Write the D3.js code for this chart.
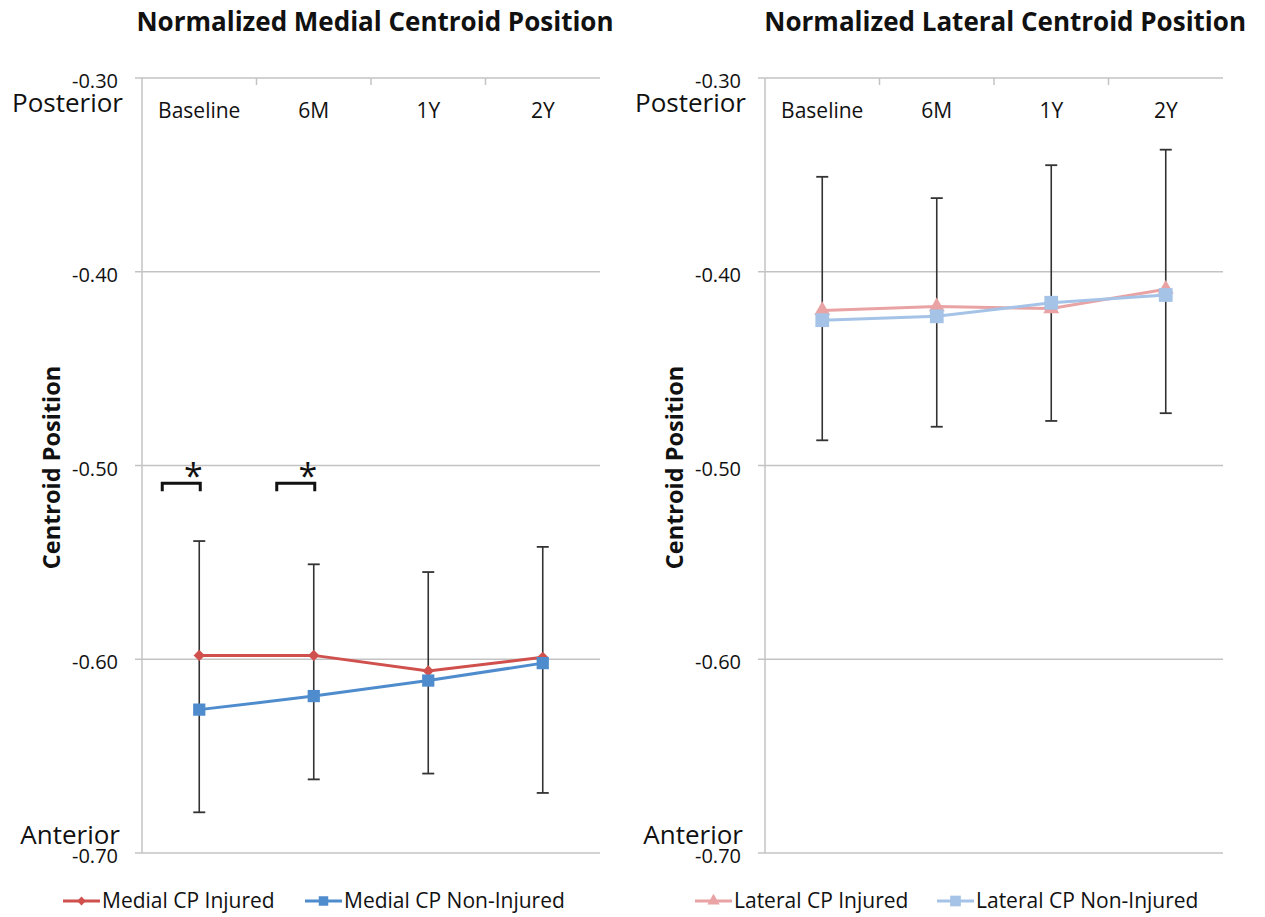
<!DOCTYPE html>
<meta charset="utf-8">
<style>
body { margin: 0; background: #fff; }
text { font-family: "Open Sans", sans-serif; fill: #111; }
.title { font-weight: bold; font-size: 26px; }
.ytitle { font-weight: bold; font-size: 23.5px; }
.tick { font-size: 20px; }
.cat { font-size: 21px; }
.side { font-size: 26px; }
.legend { font-size: 21px; }
</style>
<svg width="1265" height="917"></svg>
<script src="https://d3js.org/d3.v7.min.js"></script>
<script>

var categories = ["Baseline", "6M", "1Y", "2Y"];
var yTicks = [-0.30, -0.40, -0.50, -0.60, -0.70];

// medial panel
var medialInjured = [-0.598, -0.598, -0.606, -0.599];
var medialNonInjured = [-0.626, -0.619, -0.611, -0.602];
var medialErrHigh = [-0.539, -0.551, -0.555, -0.542];
var medialErrLow = [-0.679, -0.662, -0.659, -0.669];
var medialSignificant = ["Baseline", "6M"];

// lateral panel
var lateralInjured = [-0.420, -0.418, -0.419, -0.409];
var lateralNonInjured = [-0.425, -0.423, -0.416, -0.412];
var lateralErrHigh = [-0.351, -0.362, -0.345, -0.337];
var lateralErrLow = [-0.487, -0.480, -0.477, -0.473];

var svg = d3.select("svg");
var fmt = function(d) { return d3.format(".2f")(d).replace("\u2212", "-"); };

function marker(sel, s, scale) {
  // diamond is a square turned 45 degrees, like the spreadsheet marker
  sel.attr("d", d3.symbol().type(s.symbol === "diamond" ? d3.symbolSquare : s.symbol)
        .size(s.size * scale))
     .attr("fill", s.color);
}

function drawPanel(p) {
  var g = svg.append("g");
  var x = d3.scaleBand().domain(categories).range([p.left, p.right]);
  var y = d3.scaleLinear().domain([-0.70, -0.30]).range([853, 78]);
  var cx = function(c) { return x(c) + x.bandwidth() / 2; };

  g.append("text").attr("class", "title")
      .attr("x", p.titleX).attr("y", 31)
      .attr("text-anchor", p.titleAnchor)
      .text(p.title);

  // gridlines
  g.selectAll(".grid").data(yTicks).enter().append("line")
      .attr("x1", p.left - 7).attr("x2", p.right)
      .attr("y1", function(d) { return y(d); })
      .attr("y2", function(d) { return y(d); })
      .attr("stroke", "#c3c3c3").attr("stroke-width", 1.5);

  // y axis line
  g.append("line")
      .attr("x1", p.left).attr("x2", p.left)
      .attr("y1", y(-0.30)).attr("y2", y(-0.70))
      .attr("stroke", "#c3c3c3").attr("stroke-width", 1.5);

  // category ticks on the top axis
  g.selectAll(".ctick").data(categories.slice(1)).enter().append("line")
      .attr("x1", function(d) { return x(d); })
      .attr("x2", function(d) { return x(d); })
      .attr("y1", y(-0.30)).attr("y2", y(-0.30) + 7)
      .attr("stroke", "#c3c3c3").attr("stroke-width", 1.5);

  g.selectAll(".clabel").data(categories).enter().append("text")
      .attr("class", "cat")
      .attr("x", cx).attr("y", 118)
      .attr("text-anchor", "middle")
      .text(function(d) { return d; });

  // y tick labels
  g.selectAll(".ylabel").data(yTicks).enter().append("text")
      .attr("class", "tick")
      .attr("x", p.left - 24)
      .attr("y", function(d) { return y(d) + 10; })
      .attr("text-anchor", "end")
      .text(fmt);

  g.append("text").attr("class", "side")
      .attr("x", p.left - 19).attr("y", 112)
      .attr("text-anchor", "end").text("Posterior");
  g.append("text").attr("class", "side")
      .attr("x", p.left - 22).attr("y", 844)
      .attr("text-anchor", "end").text("Anterior");

  g.append("text").attr("class", "ytitle")
      .attr("transform", "translate(" + (p.left - 82) + "," + y(-0.501) + ") rotate(-90)")
      .attr("text-anchor", "middle")
      .text("Centroid Position");

  // error bars
  var eb = g.selectAll(".err").data(categories).enter().append("g");
  eb.append("line")
      .attr("x1", cx).attr("x2", cx)
      .attr("y1", function(d, i) { return y(p.errHigh[i]); })
      .attr("y2", function(d, i) { return y(p.errLow[i]); })
      .attr("stroke", "#333").attr("stroke-width", 1.6);
  [p.errHigh, p.errLow].forEach(function(arr) {
    eb.append("line")
        .attr("x1", function(d) { return cx(d) - 6; })
        .attr("x2", function(d) { return cx(d) + 6; })
        .attr("y1", function(d, i) { return y(arr[i]); })
        .attr("y2", function(d, i) { return y(arr[i]); })
        .attr("stroke", "#333").attr("stroke-width", 1.8);
  });

  var line = d3.line()
      .x(function(d, i) { return cx(categories[i]); })
      .y(function(d) { return y(d); });

  p.series.forEach(function(s) {
    g.append("path").datum(s.values)
        .attr("d", line)
        .attr("fill", "none")
        .attr("stroke", s.color)
        .attr("stroke-width", 3);
    g.selectAll(null).data(s.values).enter().append("path")
        .attr("transform", function(d, i) {
          return "translate(" + cx(categories[i]) + "," + y(d) + ")" +
            (s.symbol === "diamond" ? " rotate(45)" : "");
        })
        .call(marker, s, 1);
  });

  // significance brackets
  (p.significant || []).forEach(function(c) {
    var xr = cx(c) + 1, xl = xr - 38, yb = y(-0.5092);
    g.append("path")
        .attr("d", "M" + xl + "," + (yb + 8) + "V" + yb + "H" + xr + "V" + (yb + 8))
        .attr("fill", "none").attr("stroke", "#111").attr("stroke-width", 3);
    g.append("text")
        .attr("x", xr - 7).attr("y", yb + 5)
        .attr("text-anchor", "middle")
        .style("font-size", "34px")
        .text("*");
  });

  // legend
  var lg = g.selectAll(".leg").data(p.series).enter().append("g")
      .attr("transform", function(d, i) { return "translate(" + p.legendX[i] + ",901)"; });
  lg.append("line").attr("x1", 0).attr("x2", 37)
      .attr("stroke", function(d) { return d.color; }).attr("stroke-width", 3);
  lg.append("path")
      .attr("transform", function(d) { return "translate(18.5,0)" + (d.symbol === "diamond" ? " rotate(45)" : ""); })
      .each(function(d) { d3.select(this).call(marker, d, 0.6); });
  lg.append("text").attr("class", "legend")
      .attr("x", 39).attr("y", 7)
      .text(function(d) { return d.name; });
}

drawPanel({
  title: "Normalized Medial Centroid Position",
  titleX: 375, titleAnchor: "middle",
  left: 142, right: 600,
  errHigh: medialErrHigh, errLow: medialErrLow,
  significant: medialSignificant,
  legendX: [63, 305],
  series: [
    { name: "Medial CP Injured", values: medialInjured, color: "#cf504c", symbol: "diamond", size: 64 },
    { name: "Medial CP Non-Injured", values: medialNonInjured, color: "#4f8ccd", symbol: d3.symbolSquare, size: 150 }
  ]
});

drawPanel({
  title: "Normalized Lateral Centroid Position",
  titleX: 1246, titleAnchor: "end",
  left: 765, right: 1223,
  errHigh: lateralErrHigh, errLow: lateralErrLow,
  legendX: [695, 937],
  series: [
    { name: "Lateral CP Injured", values: lateralInjured, color: "#e9a3a4", symbol: d3.symbolTriangle, size: 110 },
    { name: "Lateral CP Non-Injured", values: lateralNonInjured, color: "#a5c3e7", symbol: d3.symbolSquare, size: 190 }
  ]
});

</script>
